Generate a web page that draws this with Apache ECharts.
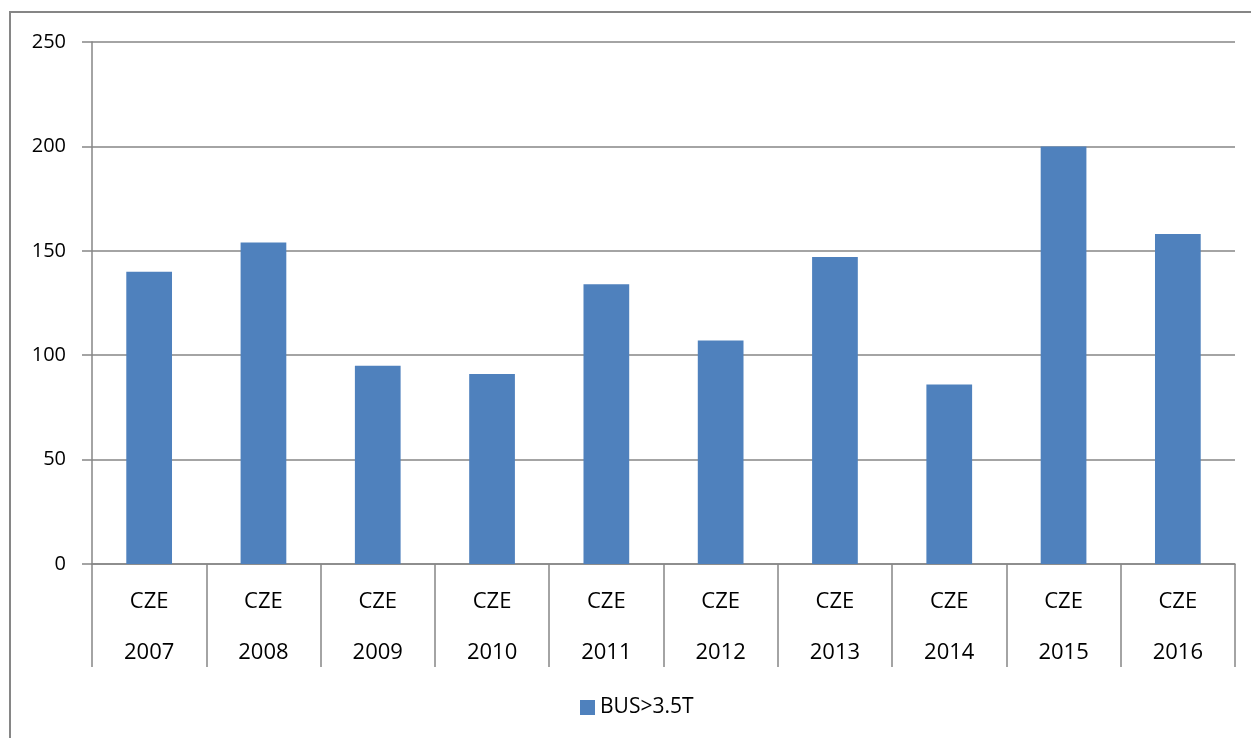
<!DOCTYPE html>
<html>
<head>
<meta charset="utf-8">
<script src="https://cdn.jsdelivr.net/npm/echarts@6/dist/echarts.min.js"></script>
<style>
html,body{margin:0;padding:0;background:#fff;}
#main{width:1251px;height:738px;}
</style>
</head>
<body>
<div id="main"></div>
<script>
var countries = ['CZE','CZE','CZE','CZE','CZE','CZE','CZE','CZE','CZE','CZE'];
var years = ['2007','2008','2009','2010','2011','2012','2013','2014','2015','2016'];
var busValues = [140, 154, 95, 91, 134, 107, 147, 86, 200, 158];
var yTicks = [0, 50, 100, 150, 200, 250];

var categories = [];
for (var i = 0; i < years.length; i++) {
    categories.push(countries[i] + '\n' + years[i]);
}

var myChart = echarts.init(document.getElementById('main'));
var option = {
    backgroundColor: '#ffffff',
    animation: false,
    textStyle: {
        fontFamily: 'Open Sans, Liberation Sans, sans-serif'
    },
    graphic: [
        {
            type: 'polyline',
            shape: { points: [[10, 738], [10, 12], [1251, 12]] },
            style: { stroke: '#868686', lineWidth: 2, fill: null }
        }
    ],
    grid: {
        left: 92,
        right: 16,
        top: 42,
        bottom: 174
    },
    legend: {
        top: 692,
        left: 575,
        itemWidth: 15,
        itemHeight: 15,
        icon: 'rect',
        itemGap: 8,
        textStyle: {
            color: '#000000',
            fontSize: 21
        },
        data: ['BUS>3.5T']
    },
    xAxis: {
        type: 'category',
        data: categories,
        axisLine: {
            lineStyle: { color: '#868686', width: 1.5 }
        },
        axisTick: {
            show: true,
            interval: 0,
            length: 103,
            lineStyle: { color: '#868686', width: 1.5 }
        },
        axisLabel: {
            interval: 0,
            margin: 12,
            color: '#000000',
            fontSize: 22,
            lineHeight: 51
        }
    },
    yAxis: {
        type: 'value',
        min: yTicks[0],
        max: yTicks[yTicks.length - 1],
        interval: 50,
        axisLine: {
            show: true,
            lineStyle: { color: '#868686', width: 1.5 }
        },
        axisTick: {
            show: true,
            length: 10,
            lineStyle: { color: '#868686', width: 1.5 }
        },
        axisLabel: {
            margin: 26,
            color: '#000000',
            fontSize: 20
        },
        splitLine: {
            lineStyle: { color: '#868686', width: 1.5 }
        }
    },
    series: [
        {
            name: 'BUS>3.5T',
            type: 'bar',
            barWidth: '40%',
            data: busValues,
            itemStyle: {
                color: '#4F81BD'
            }
        }
    ]
};
myChart.setOption(option);
</script>
</body>
</html>
